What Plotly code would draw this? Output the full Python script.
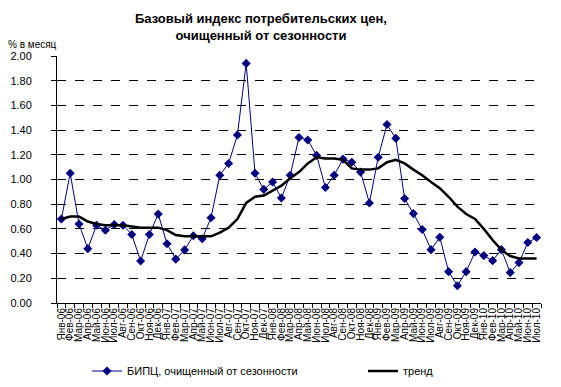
import plotly.graph_objects as go

months = ["Янв", "Фев", "Мар", "Апр", "Май", "Июн", "Июл", "Авг", "Сен", "Окт", "Ноя", "Дек"]
categories = [f"{m}-{y:02d}" for y in range(6, 11) for m in months][:55]

bipc = [0.68, 1.05, 0.64, 0.44, 0.63, 0.59, 0.635, 0.63, 0.555, 0.34, 0.555, 0.72,
        0.48, 0.355, 0.43, 0.545, 0.52, 0.69, 1.035, 1.13, 1.36, 1.94, 1.05, 0.92,
        0.98, 0.85, 1.035, 1.34, 1.32, 1.195, 0.935, 1.035, 1.165, 1.14, 1.06, 0.81,
        1.18, 1.445, 1.333, 0.846, 0.724, 0.595, 0.432, 0.532, 0.254, 0.14, 0.254, 0.413,
        0.384, 0.343, 0.432, 0.246, 0.327, 0.49, 0.53]

trend = [0.68, 0.70, 0.70, 0.66, 0.64, 0.63, 0.63, 0.63, 0.62, 0.61, 0.61, 0.61,
         0.59, 0.55, 0.54, 0.54, 0.54, 0.54, 0.57, 0.61, 0.68, 0.81, 0.86, 0.87,
         0.91, 0.95, 1.01, 1.06, 1.13, 1.18, 1.17, 1.17, 1.16, 1.09, 1.08, 1.08,
         1.09, 1.14, 1.16, 1.13, 1.08, 1.035, 0.98, 0.93, 0.86, 0.78, 0.72, 0.68,
         0.60, 0.51, 0.43, 0.38, 0.36, 0.36, 0.36]

FONT = "Liberation Sans, Arial, sans-serif"
L, R, T, B = 57, 20, 56, 84
W, H = 561, 387
pw = W - L - R
ph = H - T - B

fig = go.Figure()
fig.add_trace(go.Scatter(
    x=categories, y=bipc, mode="lines+markers",
    name="БИПЦ, очищенный от сезонности",
    line=dict(color="#000080", width=1),
    marker=dict(symbol="diamond", size=7, color="#000080"),
    legend="legend",
))
fig.add_trace(go.Scatter(
    x=categories, y=trend, mode="lines", name="тренд",
    line=dict(color="black", width=2.5),
    legend="legend2",
))

leg_common = dict(
    orientation="h", xref="container", yref="container",
    xanchor="left", yanchor="middle", y=(H - 371) / H,
    font=dict(family=FONT, size=11, color="black"),
    itemwidth=30, bgcolor="rgba(0,0,0,0)",
)

fig.update_layout(
    width=W, height=H,
    margin=dict(l=L, r=R, t=T, b=B, autoexpand=False),
    paper_bgcolor="white", plot_bgcolor="white",
    font=dict(family=FONT, size=11, color="black"),
    title=dict(
        text="<b>Базовый индекс потребительских цен,<br>очищенный от сезонности</b>",
        x=261 / W, xanchor="center", y=1 - 23 / H, yanchor="top",
        font=dict(family=FONT, size=13, color="black"),
    ),
    showlegend=True,
    legend=dict(x=87 / W, **leg_common),
    legend2=dict(x=363 / W, **leg_common),
    annotations=[dict(
        text="% в месяц", x=(6 - L) / pw, y=(H - B - 44) / ph,
        xref="paper", yref="paper",
        showarrow=False, font=dict(family=FONT, size=10, color="black"),
        xanchor="left", yanchor="middle",
    )],
)

fig.update_xaxes(
    type="category", range=[-0.5, 54.5], automargin=False,
    tickmode="linear", tick0=0, dtick=1,
    showline=True, linecolor="black", linewidth=1,
    ticks="outside", tickson="boundaries", ticklen=4, tickcolor="black",
    tickangle=-90, tickfont=dict(family=FONT, size=10, color="black"),
    showgrid=False, zeroline=False,
)
fig.update_yaxes(
    range=[0, 2.0], dtick=0.2, tickformat=".2f", automargin=False,
    showline=True, linecolor="black", linewidth=1,
    ticks="outside", ticklen=5, tickcolor="black",
    ticklabelstandoff=17,
    tickfont=dict(family=FONT, size=11, color="black"),
    showgrid=True, gridcolor="black", griddash="dash", gridwidth=1,
    zeroline=False,
)

fig.write_html("out.html")
